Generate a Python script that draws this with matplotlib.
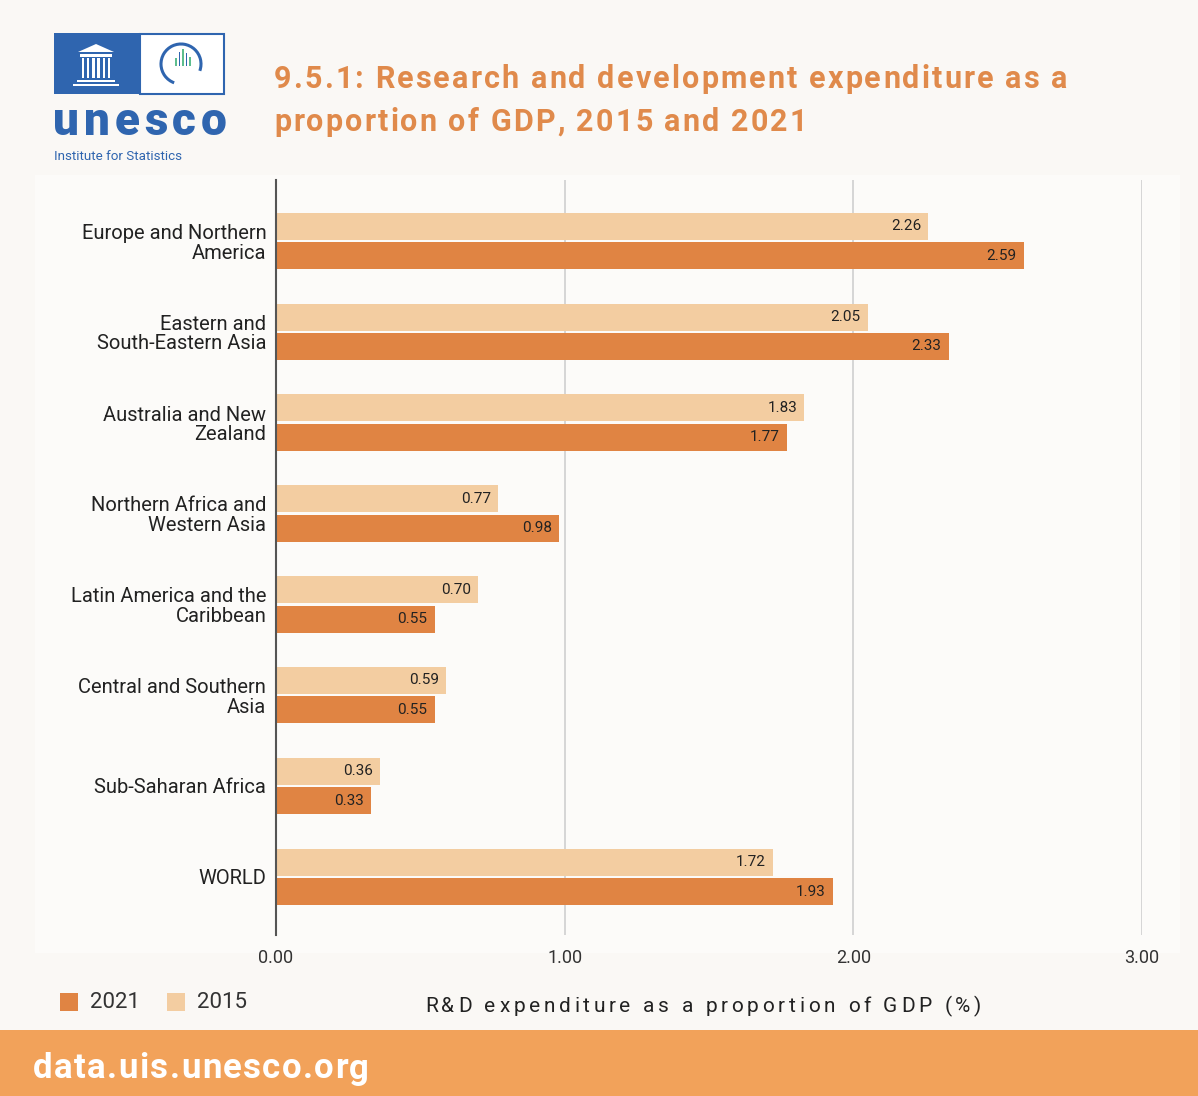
import matplotlib.pyplot as plt
import numpy as np
from matplotlib.patches import Rectangle, Polygon, Arc

plt.rcParams['font.family'] = ['Roboto', 'DejaVu Sans']

regions = ["Europe and Northern\nAmerica", "Eastern and\nSouth-Eastern Asia",
           "Australia and New\nZealand", "Northern Africa and\nWestern Asia",
           "Latin America and the\nCaribbean", "Central and Southern\nAsia",
           "Sub-Saharan Africa", "WORLD"]
val_2015 = [2.26, 2.05, 1.83, 0.77, 0.70, 0.59, 0.36, 1.72]
val_2021 = [2.59, 2.33, 1.77, 0.98, 0.55, 0.55, 0.33, 1.93]
xticks = [0.0, 1.0, 2.0, 3.0]

c2021 = "#E08443"
c2015 = "#F3CDA1"
bg = "#FAF8F5"
blue = "#2F65AF"

W, H = 1198, 1096
fig = plt.figure(figsize=(W / 100, H / 100), dpi=100, facecolor=bg)
renderer = fig.canvas.get_renderer()

# background / decoration layer in pixel coords
deco = fig.add_axes([0, 0, 1, 1], zorder=0)
deco.set_xlim(0, W)
deco.set_ylim(H, 0)
deco.axis("off")


def text_width(s, **kw):
    t = deco.text(0, 0, s, **kw)
    w = t.get_window_extent(renderer).width
    t.remove()
    return w


def spaced(x, y, s, spacing, ha="left", **kw):
    # letter-spaced text, one glyph at a time
    bar = text_width("|", **kw)
    total = text_width(s + "|", **kw) - bar + spacing * (len(s) - 1)
    if ha == "center":
        x = x - total / 2
    for i, ch in enumerate(s):
        if ch == " ":
            continue
        px = x + (text_width(s[:i] + "|", **kw) - bar if i else 0) + spacing * i
        deco.text(px, y, ch, ha="left", **kw)


deco.add_patch(Rectangle((35, 175), 1145, 778, color="#FCFBF9", lw=0))
deco.add_patch(Rectangle((0, 1030), W, 66, color="#F2A25A", lw=0))
spaced(33, 1069, "data.uis.unesco.org", 1.4, color="white", fontsize=25,
       fontweight="bold", va="center")

# logo
deco.add_patch(Rectangle((54, 33), 85, 61, color=blue, lw=0))
deco.add_patch(Rectangle((139.5, 33.5), 84.5, 60.5, fc="white", ec=blue, lw=1.5))
deco.add_patch(Polygon([(78, 52), (96, 44), (114, 52)], closed=True, fc="white", lw=0))
deco.add_patch(Rectangle((80, 54), 32, 3, color="white", lw=0))
for cx in np.linspace(83, 109, 6):
    deco.add_patch(Rectangle((cx - 1.2, 58), 2.4, 20, color="white", lw=0))
deco.add_patch(Rectangle((77, 80), 38, 2.2, color="white", lw=0))
deco.add_patch(Rectangle((73, 84), 46, 2.2, color="white", lw=0))
deco.add_patch(Arc((181, 64), 40, 40, theta1=-250, theta2=20, color=blue, lw=2.2))
for bx, by, bh, bc in [(175, 58, 8, "#5DBE8E"), (178.5, 52, 14, blue),
                       (182, 49, 17, "#5DBE8E"), (185.5, 53, 13, blue),
                       (189, 57, 9, "#5DBE8E")]:
    deco.add_patch(Rectangle((bx, by), 1.8, bh, color=bc, lw=0))
spaced(53, 122, "unesco", 4.8, color=blue, fontsize=33, fontweight="heavy",
       va="center")
deco.text(54, 156, "Institute for Statistics", color=blue, fontsize=9.6,
          va="center", ha="left")

tkw = dict(color="#E08A4B", fontsize=22, fontweight="bold", va="center")
spaced(274, 79, "9.5.1: Research and development expenditure as a", 2.1, **tkw)
spaced(274, 122, "proportion of GDP, 2015 and 2021", 2.1, **tkw)

# legend
deco.add_patch(Rectangle((60, 993), 18, 18, color=c2021, lw=0))
deco.text(90, 1002, "2021", fontsize=16, color="#333333", va="center")
deco.add_patch(Rectangle((167, 993), 18, 18, color=c2015, lw=0))
deco.text(197, 1002, "2015", fontsize=16, color="#333333", va="center")
spaced(703, 1006, "R&D expenditure as a proportion of GDP (%)", 3.7, ha="center",
       fontsize=15, color="#222222", va="center")

# main chart
ax = fig.add_axes([276 / W, 1 - 935 / H, (1142 - 276) / W, (935 - 180) / H], zorder=1)
ax.set_facecolor("none")
y = np.arange(len(regions))
bh = 0.297
off = 0.162
ax.barh(y - off, val_2015, height=bh, color=c2015, zorder=3)
ax.barh(y + off, val_2021, height=bh, color=c2021, zorder=3)
for yy, v in zip(y, val_2015):
    ax.text(v - 0.025, yy - off, f"{v:.2f}", ha="right", va="center", fontsize=11,
            color="#222222", zorder=4)
for yy, v in zip(y, val_2021):
    ax.text(v - 0.025, yy + off, f"{v:.2f}", ha="right", va="center", fontsize=11,
            color="#222222", zorder=4)

ax.set_xlim(0, 3.0)
ax.set_ylim(7 + 0.64, -0.67)
ax.set_xticks(xticks)
ax.set_xticklabels([f"{t:.2f}" for t in xticks], fontsize=13, color="#333333")
ax.set_yticks(y)
ax.set_yticklabels(regions, fontsize=14.5, color="#222222", ha="right",
                   linespacing=1.05)
ax.tick_params(axis="both", length=0)
ax.tick_params(axis="x", pad=10)
ax.tick_params(axis="y", pad=7)
ax.grid(axis="x", color="#CFCFCF", lw=1.2, zorder=0)
for s in ["top", "right", "bottom"]:
    ax.spines[s].set_visible(False)
ax.spines["left"].set_color("#555555")
ax.spines["left"].set_linewidth(1.5)
ax.spines["left"].set_zorder(5)

fig.savefig("out.png", dpi=100, facecolor=bg)
